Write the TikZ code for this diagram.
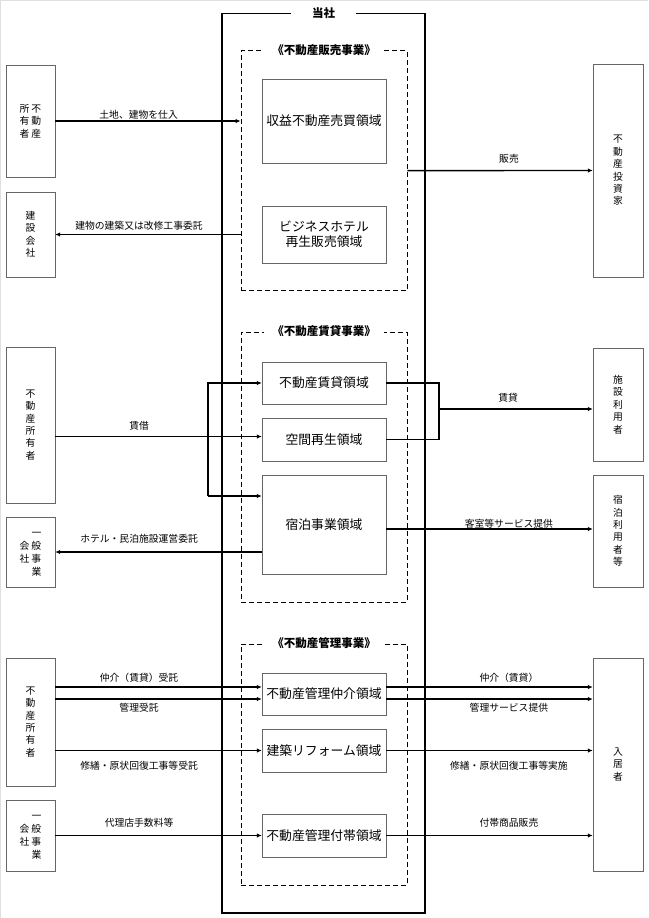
\documentclass[tikz,border=0pt]{standalone}
\usepackage{fontspec}
\setmainfont{Noto Sans CJK JP}
\usetikzlibrary{positioning,calc,arrows.meta}
\tikzstyle{party} = [draw=gray!80!black, minimum width=49pt, inner sep=0pt, align=center, font=\fontsize{9.8}{12.4}\selectfont]
\tikzstyle{area} = [draw=gray!80!black, minimum width=124pt, inner sep=0pt, align=center, font=\fontsize{12.8}{15}\selectfont]
\tikzstyle{segment} = [draw, line width=0.9pt, dash pattern=on 5pt off 3pt, minimum width=166pt]
\tikzstyle{segtitle} = [fill=white, inner xsep=8pt, inner ysep=1pt, font=\bfseries\fontsize{11.5}{14}\selectfont]
\tikzstyle{arrow} = [line width=1.4pt, -{Latex[length=5pt,width=4.5pt]}]
\tikzstyle{lbl} = [inner sep=0pt, font=\fontsize{9.8}{12}\selectfont]

\begin{document}
\begin{tikzpicture}[x=1pt,y=-1pt]
    \useasboundingbox (0,0) rectangle (648,918);
    \draw[gray!25, line width=1.5pt] (0,918) -- (0,0) -- (648,0);

    % company and its three segments
    \node[draw, line width=1.2pt, minimum width=203pt, minimum height=899.5pt] (company) at (323.5,463.25) {};
    \node[segment, minimum height=240pt] (sales) at (324,170.6) {};
    \node[segment, minimum height=270pt] (rental) at (324,467) {};
    \node[segment, minimum height=241pt] (mgmt) at (324,764.5) {};
    \node[segtitle, inner xsep=21pt] at (company.north) {当社};
    \node[segtitle] at (sales.north) {《不動産販売事業》};
    \node[segtitle] at (rental.north) {《不動産賃貸事業》};
    \node[segtitle] at (mgmt.north) {《不動産管理事業》};

    % business areas
    \node[area, minimum height=84pt] (sale1) at (324,121) {収益不動産売買領域};
    \node[area, minimum height=57pt] (sale2) at (324,234.5) {ビジネスホテル\\再生販売領域};
    \node[area, minimum height=42pt] (rent1) at (324,383) {不動産賃貸領域};
    \node[area, minimum height=43pt] (rent2) at (324,439.5) {空間再生領域};
    \node[area, minimum height=99pt] (rent3) at (324,524.5) {宿泊事業領域};
    \node[area, minimum height=42pt] (mgmt1) at (324,694) {不動産管理仲介領域};
    \node[area, minimum height=43pt] (mgmt2) at (324,750.5) {建築リフォーム領域};
    \node[area, minimum height=43pt] (mgmt3) at (324,835.5) {不動産管理付帯領域};

    % counterparties, left
    \node[party, minimum height=112pt] (own1) at (30.5,121) {所\hspace{2pt}不\\有\hspace{2pt}動\\者\hspace{2pt}産};
    \node[party, minimum height=85pt] (build) at (30.5,234.5) {建\\設\\会\\社};
    \node[party, minimum height=156pt] (own2) at (30.5,425) {不\\動\\産\\所\\有\\者};
    \node[party, minimum height=70pt, font=\fontsize{9.8}{13}\selectfont] (gen1) at (30.5,552) {\phantom{会}\hspace{2pt}一\\会\hspace{2pt}般\\社\hspace{2pt}事\\\phantom{社}\hspace{2pt}業};
    \node[party, minimum height=128pt] (own3) at (30.5,722) {不\\動\\産\\所\\有\\者};
    \node[party, minimum height=71pt, font=\fontsize{9.8}{13}\selectfont] (gen2) at (30.5,835.5) {\phantom{会}\hspace{2pt}一\\会\hspace{2pt}般\\社\hspace{2pt}事\\\phantom{社}\hspace{2pt}業};

    % counterparties, right
    \node[party, minimum width=50pt, minimum height=213pt] (investor) at (618,170.5) {不\\動\\産\\投\\資\\家};
    \node[party, minimum width=50pt, minimum height=113pt] (facility) at (618,404.5) {施\\設\\利\\用\\者};
    \node[party, minimum width=50pt, minimum height=112pt] (guest) at (618,531) {宿\\泊\\利\\用\\者\\等};
    \node[party, minimum width=50pt, minimum height=213pt] (tenant) at (618,764.5) {入\\居\\者};

    % sales flows
    \draw[arrow] (own1.east) -- (own1.east -| sales.west)
        node[lbl, pos=.45, yshift=6pt] {土地、建物を仕入};
    \draw[arrow] (build.east -| sales.west) -- (build.east)
        node[lbl, pos=.548, yshift=9pt] {建物の建築又は改修工事委託};
    \draw[arrow] (sales.east) -- (investor.west)
        node[lbl, pos=.548, yshift=12pt] {販売};

    % rental flows
    \coordinate (fork) at (208,496);
    \coordinate (lease in) at ($(rent2.west)+(0,-3)$);
    \draw[arrow] (own2.east |- lease in) -- (lease in)
        node[lbl, pos=.406, yshift=11pt] {賃借};
    \draw[arrow] (fork) |- (rent1.west);
    \draw[arrow] (fork) -- (fork -| rent3.west);
    \coordinate (join) at (439,409);
    \draw[line width=1.4pt] (rent1.east) -| (join) |- (rent2.east);
    \draw[arrow] (join) -- (join -| facility.west)
        node[lbl, pos=.45, yshift=11pt] {賃貸};
    \coordinate (stay) at ($(rent3.east)+(0,4.5)$);
    \draw[arrow] (stay) -- (stay -| guest.west)
        node[lbl, pos=.594, yshift=5pt] {客室等サービス提供};
    \draw[arrow] (rent3.west |- gen1.east) -- (gen1.east)
        node[lbl, pos=.594, yshift=13pt] {ホテル・民泊施設運営委託};

    % management flows
    \coordinate (m1a) at ($(mgmt1.west)+(0,-7)$);
    \coordinate (m1b) at ($(mgmt1.west)+(0,5)$);
    \draw[arrow] (own3.east |- m1a) -- (m1a)
        node[lbl, pos=.406, yshift=9pt] {仲介（賃貸）受託};
    \draw[arrow] (own3.east |- m1b) -- (m1b)
        node[lbl, pos=.406, yshift=-9pt] {管理受託};
    \draw[arrow] (own3.east |- mgmt2.west) -- (mgmt2.west)
        node[lbl, pos=.406, yshift=-15pt] {修繕・原状回復工事等受託};
    \draw[arrow] (gen2) -- (mgmt3)
        node[lbl, pos=.406, yshift=13pt] {代理店手数料等};
    \draw[arrow] (m1a -| mgmt1.east) -- (m1a -| tenant.west)
        node[lbl, pos=.594, yshift=9pt] {仲介（賃貸）};
    \draw[arrow] (m1b -| mgmt1.east) -- (m1b -| tenant.west)
        node[lbl, pos=.594, yshift=-9pt] {管理サービス提供};
    \draw[arrow] (mgmt2.east) -- (mgmt2.east -| tenant.west)
        node[lbl, pos=.594, yshift=-15pt] {修繕・原状回復工事等実施};
    \draw[arrow] (mgmt3.east) -- (mgmt3.east -| tenant.west)
        node[lbl, pos=.594, yshift=13pt] {付帯商品販売};
\end{tikzpicture}
\end{document}
